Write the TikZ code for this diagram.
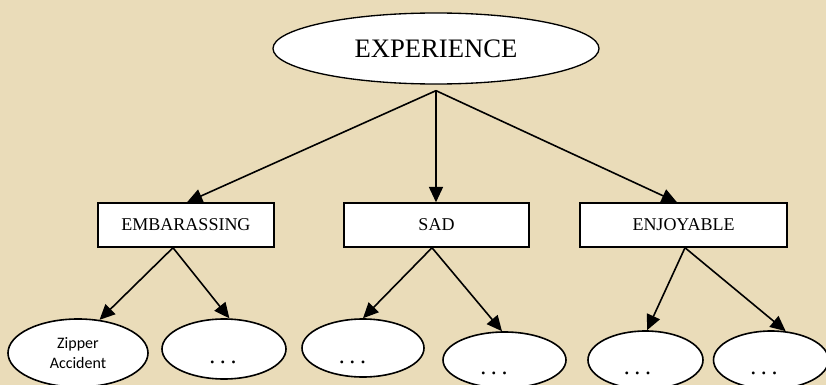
\documentclass[tikz,border=0pt]{standalone}
\usepackage{fontspec}
\setmainfont{Liberation Serif}
\newfontfamily\calib{Carlito}
\usetikzlibrary{shapes.geometric,arrows.meta,calc}
\definecolor{bgbeige}{RGB}{234,220,185}
\tikzset{
  topell/.style={ellipse,draw,fill=white,line width=1pt,inner sep=0pt,
    minimum width=244.5pt,minimum height=53.25pt,font=\fontsize{20}{24}\selectfont},
  catbox/.style={rectangle,draw,fill=white,line width=1.1pt,inner sep=0pt,
    minimum height=33pt,font=\fontsize{13.5}{16}\selectfont},
  leafell/.style={ellipse,draw,fill=white,line width=1.2pt,inner sep=0pt},
  dots/.style={anchor=base,inner sep=0pt,font=\fontsize{18}{20}\selectfont},
  arr/.style={line width=1.2pt,-{Triangle[length=11.5pt,width=10.5pt]}}
}
\newcommand{\mydots}{.\hspace{3.4pt}.\hspace{3.4pt}.}
\begin{document}
\begin{tikzpicture}[x=0.75pt,y=-0.75pt]
\fill[bgbeige] (0,0) rectangle (826,385);
\useasboundingbox (0,0) rectangle (826,385);
% top
\node[topell] (exp) at (436,48.5) {EXPERIENCE};
% category boxes
\node[catbox,minimum width=132pt] (emb) at (186,225) {EMBARASSING};
\node[catbox,minimum width=138.75pt] (sad) at (436.5,225) {SAD};
\node[catbox,minimum width=155.25pt] (enj) at (683.5,225) {ENJOYABLE};
% leaves
\node[leafell,minimum width=105pt,minimum height=51pt,align=center,
  font=\calib\fontsize{12}{15}\selectfont] (z1) at (78,353) {Zipper\\Accident};
\node[leafell,minimum width=93pt,minimum height=45pt] (e2) at (224,349) {};
\node[leafell,minimum width=91.5pt,minimum height=43.5pt] (s1) at (363,348) {};
\node[leafell,minimum width=92.25pt,minimum height=42pt] (s2) at (504.5,360) {};
\node[leafell,minimum width=86.25pt,minimum height=43.5pt] (j1) at (645.5,360) {};
\node[leafell,minimum width=86.25pt,minimum height=43.5pt] (j2) at (771,360) {};
\node[dots] (e2t) at (223,363) {\mydots};
\node[dots] (s1t) at (352.5,363.5) {\mydots};
\node[dots] (s2t) at (494,374.5) {\mydots};
\node[dots] (j1t) at (637.5,374.5) {\mydots};
\node[dots] (j2t) at (764,374.5) {\mydots};
% hubs
\coordinate (hub) at ($(exp.south)+(0,6)$);
\coordinate (embhub) at ($(emb.south)+(-13,0)$);
\coordinate (sadhub) at ($(sad.south)+(-4.5,0)$);
\coordinate (enjhub) at ($(enj.south)+(1.5,0)$);
% arrows
\draw[arr] (hub) -- ($(emb.north)+(1,0)$);
\draw[arr] (hub) -- ($(sad.north)+(-0.5,0)$);
\draw[arr] (hub) -- ($(enj.north)+(-6.5,0)$);
\draw[arr] (embhub) -- (z1.57);
\draw[arr] (embhub) -- (e2.80);
\draw[arr] (sadhub) -- (s1.north);
\draw[arr] (sadhub) -- (s2.95);
\draw[arr] (enjhub) -- (j1.87);
\draw[arr] (enjhub) -- (j2.63);
\end{tikzpicture}
\end{document}
